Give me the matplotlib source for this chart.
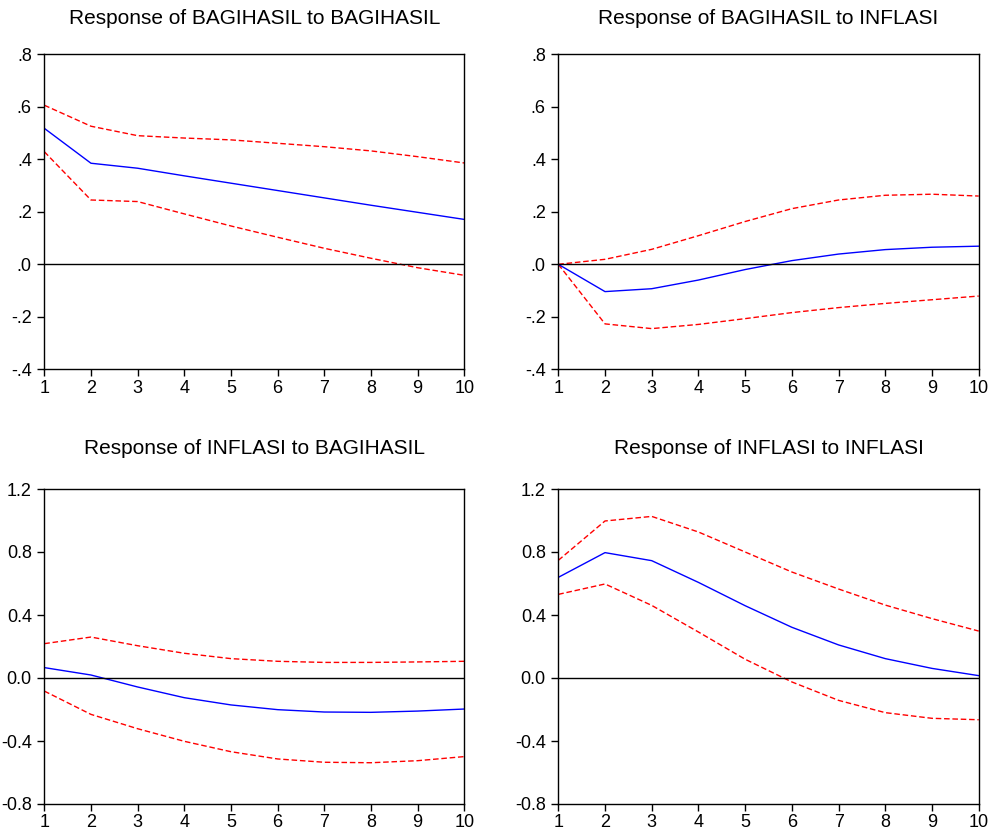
import matplotlib
matplotlib.use("Agg")
import matplotlib.pyplot as plt
from matplotlib.ticker import FuncFormatter

plt.rcParams['font.family'] = ['Liberation Sans', 'DejaVu Sans']

periods = [1, 2, 3, 4, 5, 6, 7, 8, 9, 10]

# Response of BAGIHASIL to BAGIHASIL
bb_resp  = [0.518, 0.385, 0.366, 0.337, 0.309, 0.281, 0.253, 0.225, 0.198, 0.171]
bb_upper = [0.606, 0.526, 0.490, 0.481, 0.474, 0.461, 0.448, 0.432, 0.410, 0.386]
bb_lower = [0.429, 0.245, 0.239, 0.192, 0.146, 0.103, 0.061, 0.023, -0.013, -0.042]

# Response of BAGIHASIL to INFLASI
bi_resp  = [0.0, -0.104, -0.093, -0.060, -0.020, 0.014, 0.039, 0.056, 0.065, 0.069]
bi_upper = [0.0, 0.019, 0.057, 0.109, 0.163, 0.212, 0.245, 0.263, 0.267, 0.260]
bi_lower = [0.0, -0.227, -0.245, -0.229, -0.207, -0.184, -0.165, -0.149, -0.135, -0.121]

# Response of INFLASI to BAGIHASIL
ib_resp  = [0.066, 0.019, -0.057, -0.125, -0.171, -0.201, -0.216, -0.218, -0.210, -0.197]
ib_upper = [0.218, 0.260, 0.205, 0.157, 0.123, 0.106, 0.099, 0.099, 0.102, 0.106]
ib_lower = [-0.083, -0.231, -0.322, -0.402, -0.468, -0.514, -0.535, -0.538, -0.525, -0.499]

# Response of INFLASI to INFLASI
ii_resp  = [0.639, 0.796, 0.745, 0.607, 0.459, 0.322, 0.210, 0.123, 0.061, 0.015]
ii_upper = [0.747, 0.997, 1.026, 0.927, 0.800, 0.673, 0.565, 0.463, 0.377, 0.298]
ii_lower = [0.531, 0.597, 0.461, 0.292, 0.119, -0.025, -0.142, -0.220, -0.256, -0.265]

titles = ["Response of BAGIHASIL to BAGIHASIL", "Response of BAGIHASIL to INFLASI",
          "Response of INFLASI to BAGIHASIL", "Response of INFLASI to INFLASI"]

top_ticks = [-0.4, -0.2, 0.0, 0.2, 0.4, 0.6, 0.8]
bot_ticks = [-0.8, -0.4, 0.0, 0.4, 0.8, 1.2]

def fmt_top(v, pos):
    s = "%.1f" % v
    s = s.replace("0.", ".")
    if s == "-.0":
        s = ".0"
    return s

def fmt_bot(v, pos):
    s = "%.1f" % v
    if s == "-0.0":
        s = "0.0"
    return s

W, H = 995, 836
fig = plt.figure(figsize=(W/100, H/100), dpi=100)

panels = [
    (44.3, 54.3, 464.3, 369.3, bb_resp, bb_upper, bb_lower, top_ticks, fmt_top, titles[0], 21.5),
    (558.3, 54.3, 978.7, 369.3, bi_resp, bi_upper, bi_lower, top_ticks, fmt_top, titles[1], 21.5),
    (44.3, 489.0, 464.3, 804.0, ib_resp, ib_upper, ib_lower, bot_ticks, fmt_bot, titles[2], 25),
    (558.3, 489.0, 978.7, 804.0, ii_resp, ii_upper, ii_lower, bot_ticks, fmt_bot, titles[3], 25),
]

for (x0, y0, x1, y1, resp, up, lo, ticks, fmt, title, tpad) in panels:
    ax = fig.add_axes([x0/W, 1 - y1/H, (x1-x0)/W, (y1-y0)/H])
    ax.plot(periods, up, color='#ff0000', lw=1.0, ls=(0, (4, 2)))
    ax.plot(periods, lo, color='#ff0000', lw=1.0, ls=(0, (4, 2)))
    ax.plot(periods, resp, color='#0000ff', lw=1.0)
    ax.axhline(0, color='black', lw=1.0)
    ax.set_xlim(1, 10)
    ax.set_ylim(ticks[0], ticks[-1])
    ax.set_xticks(periods)
    ax.set_yticks(ticks)
    ax.yaxis.set_major_formatter(FuncFormatter(fmt))
    ax.tick_params(direction='out', length=5, width=1, labelsize=13, colors='black')
    ax.tick_params(axis='x', pad=2.5)
    ax.tick_params(axis='y', pad=4)
    for sp in ax.spines.values():
        sp.set_linewidth(1.0)
    ax.set_title(title, fontsize=15, pad=tpad)

fig.savefig("out.png", dpi=100)
